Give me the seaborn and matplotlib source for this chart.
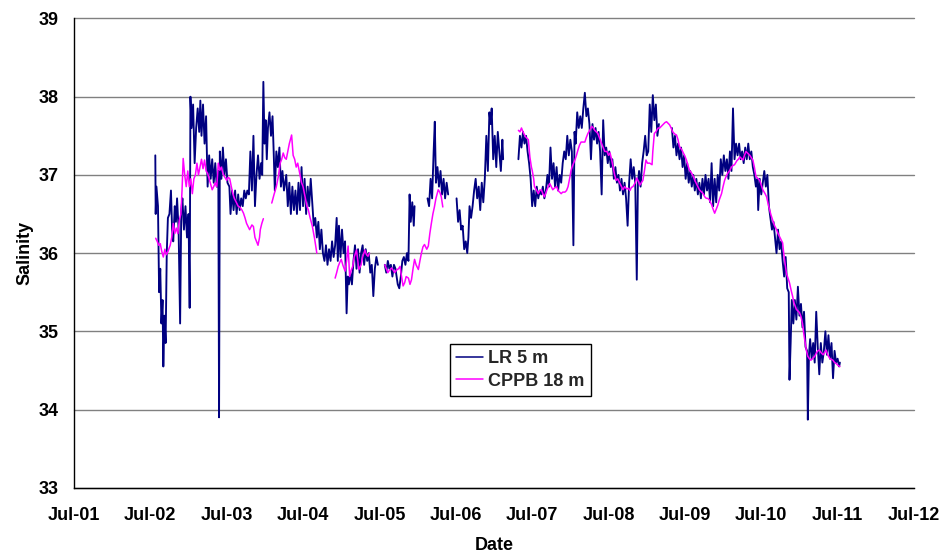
import pandas as pd
import matplotlib
matplotlib.use("Agg")
import matplotlib.pyplot as plt
import matplotlib.dates as mdates
from matplotlib.lines import Line2D
import seaborn as sns

# Salinity readings as (decimal year, salinity); None marks a break in the record.
lr_readings = [
    (2002.565, 37.25), (2002.57, 36.5), (2002.58, 36.85), (2002.60, 36.6), (2002.615, 35.5),
    (2002.63, 35.8), (2002.645, 35.1), (2002.66, 35.4), (2002.67, 34.55), (2002.685, 35.2),
    (2002.70, 34.85), (2002.715, 36.0), (2002.73, 36.45), (2002.75, 36.5), (2002.77, 36.8),
    (2002.785, 36.3), (2002.80, 36.15), (2002.82, 36.6), (2002.835, 36.4), (2002.85, 36.7),
    (2002.87, 36.3), (2002.89, 35.1), (2002.905, 36.55), (2002.92, 36.7), (2002.94, 36.3),
    (2002.96, 36.6), (2002.98, 36.2), (2003.00, 36.5), (2003.015, 35.3), (2003.025, 38.0),
    (2003.04, 37.6), (2003.06, 37.9), (2003.08, 37.15), (2003.10, 37.6), (2003.12, 37.85),
    (2003.14, 37.55), (2003.155, 37.95), (2003.17, 37.5), (2003.19, 37.9), (2003.21, 37.4),
    (2003.23, 37.75), (2003.25, 36.85), (2003.27, 37.25), (2003.29, 36.95), (2003.31, 37.2),
    (2003.33, 36.9), (2003.35, 37.15), (2003.37, 36.85), (2003.39, 37.05), (2003.40, 33.9),
    (2003.41, 37.3), (2003.43, 36.95), (2003.45, 37.35), (2003.47, 37.0), (2003.49, 37.2),
    (2003.51, 36.9), (2003.535, 36.85), (2003.55, 36.5), (2003.57, 36.8), (2003.59, 36.55),
    (2003.61, 36.8), (2003.63, 36.5), (2003.65, 36.75), (2003.67, 36.55), (2003.69, 36.7),
    (2003.71, 36.6), (2003.73, 36.8), (2003.75, 36.7), (2003.77, 36.8), (2003.79, 36.75),
    (2003.81, 37.3), (2003.83, 36.8), (2003.85, 37.5), (2003.87, 36.6), (2003.89, 37.0),
    (2003.91, 37.25), (2003.93, 36.95), (2003.95, 37.15), (2003.965, 37.0), (2003.98, 38.19),
    (2003.995, 37.4), (2004.01, 37.7), (2004.025, 37.2), (2004.04, 37.6), (2004.06, 37.8),
    (2004.08, 37.5), (2004.10, 37.75), (2004.115, 37.3), (2004.13, 36.8), (2004.15, 37.3),
    (2004.17, 37.1), (2004.19, 37.35), (2004.21, 36.85), (2004.23, 37.05), (2004.25, 36.8),
    (2004.28, 37.0), (2004.30, 36.6), (2004.32, 36.9), (2004.34, 36.5), (2004.36, 36.85),
    (2004.38, 36.55), (2004.40, 36.8), (2004.42, 36.5), (2004.44, 36.9), (2004.46, 36.55),
    (2004.48, 37.1), (2004.50, 36.6), (2004.52, 36.95), (2004.54, 36.5), (2004.56, 36.85),
    (2004.58, 36.6), (2004.60, 36.95), (2004.62, 36.65), (2004.64, 36.35), (2004.66, 36.45),
    (2004.68, 36.2), (2004.70, 36.4), (2004.72, 36.05), (2004.74, 36.3), (2004.76, 36.0),
    (2004.78, 35.9), (2004.80, 36.1), (2004.82, 35.85), (2004.84, 36.05), (2004.86, 35.9),
    (2004.88, 36.15), (2004.90, 35.95), (2004.92, 36.1), (2004.94, 36.45), (2004.955, 35.9),
    (2004.97, 36.35), (2004.99, 35.95), (2005.01, 36.3), (2005.03, 36.0), (2005.05, 36.15),
    (2005.07, 35.23), (2005.085, 35.7), (2005.10, 35.6), (2005.12, 35.75), (2005.14, 35.6),
    (2005.16, 35.9), (2005.18, 36.1), (2005.20, 35.8), (2005.22, 36.05), (2005.24, 35.75),
    (2005.26, 36.0), (2005.28, 36.1), (2005.30, 35.85), (2005.32, 36.05), (2005.34, 35.9),
    (2005.36, 36.0), (2005.38, 35.75), (2005.40, 35.85), (2005.42, 35.45), (2005.44, 35.8),
    (2005.46, 35.95), (2005.48, 35.85),
    None,
    (2005.57, 35.85), (2005.59, 35.75), (2005.61, 35.9), (2005.63, 35.8), (2005.65, 35.85),
    (2005.67, 35.7), (2005.69, 35.85), (2005.71, 35.8), (2005.74, 35.6), (2005.76, 35.55),
    (2005.78, 35.7), (2005.80, 35.9), (2005.82, 35.95), (2005.84, 35.85), (2005.86, 36.0),
    (2005.88, 35.9), (2005.895, 36.75), (2005.91, 36.4), (2005.93, 36.65), (2005.95, 36.35),
    (2005.96, 36.6),
    None,
    (2006.13, 36.7), (2006.15, 36.6), (2006.17, 36.95), (2006.19, 36.7), (2006.21, 37.3),
    (2006.225, 37.68), (2006.24, 36.9), (2006.26, 37.1), (2006.28, 36.85), (2006.30, 37.05),
    (2006.32, 36.75), (2006.34, 36.95), (2006.36, 36.7), (2006.38, 36.9), (2006.40, 36.75),
    None,
    (2006.51, 36.7), (2006.53, 36.4), (2006.55, 36.55), (2006.57, 36.3), (2006.59, 36.35),
    (2006.61, 36.05), (2006.63, 36.15), (2006.65, 36.0), (2006.665, 36.2), (2006.68, 36.6),
    (2006.70, 36.45), (2006.72, 36.6), (2006.74, 36.8), (2006.76, 36.95), (2006.78, 36.7),
    (2006.80, 36.85), (2006.82, 36.55), (2006.84, 36.9), (2006.86, 36.65), (2006.88, 36.95),
    (2006.90, 37.5), (2006.92, 37.05), (2006.94, 37.8), (2006.955, 37.65), (2006.97, 37.85),
    (2006.99, 37.2), (2007.01, 37.5), (2007.03, 37.1), (2007.05, 37.55), (2007.07, 37.3),
    (2007.09, 37.05), (2007.11, 37.45), (2007.12, 37.2),
    None,
    (2007.32, 37.2), (2007.34, 37.5), (2007.36, 37.35), (2007.38, 37.55), (2007.40, 37.4),
    (2007.42, 37.5), (2007.44, 37.3), (2007.46, 37.15), (2007.48, 36.95), (2007.50, 36.6),
    (2007.52, 36.8), (2007.54, 36.6), (2007.56, 36.85), (2007.58, 36.7), (2007.60, 36.8),
    (2007.62, 36.75), (2007.64, 36.85), (2007.66, 36.7), (2007.68, 36.8), (2007.70, 37.0),
    (2007.72, 36.85), (2007.74, 37.35), (2007.76, 36.95), (2007.78, 37.15), (2007.80, 36.85),
    (2007.82, 37.1), (2007.84, 36.8), (2007.86, 37.0), (2007.88, 36.9), (2007.90, 37.15),
    (2007.92, 37.3), (2007.94, 37.2), (2007.96, 37.5), (2007.98, 37.25), (2008.00, 37.45),
    (2008.02, 37.3), (2008.04, 36.1), (2008.055, 37.55), (2008.07, 37.4), (2008.09, 37.8),
    (2008.11, 37.6), (2008.13, 37.75), (2008.15, 37.6), (2008.17, 37.85), (2008.19, 38.05),
    (2008.21, 37.75), (2008.23, 37.85), (2008.25, 37.65), (2008.27, 37.2), (2008.29, 37.65),
    (2008.31, 37.45), (2008.33, 37.6), (2008.35, 37.4), (2008.37, 37.55), (2008.39, 37.3),
    (2008.41, 36.75), (2008.43, 37.7), (2008.45, 37.25), (2008.47, 37.35), (2008.49, 37.15),
    (2008.51, 37.3), (2008.53, 37.1), (2008.55, 37.2), (2008.57, 36.95), (2008.59, 37.1),
    (2008.61, 36.9), (2008.63, 37.0), (2008.65, 36.8), (2008.67, 36.95), (2008.69, 36.75),
    (2008.71, 36.9), (2008.73, 36.7), (2008.75, 36.35), (2008.77, 36.9), (2008.79, 37.2),
    (2008.81, 36.95), (2008.83, 37.1), (2008.85, 36.9), (2008.87, 35.66), (2008.885, 36.9),
    (2008.90, 37.05), (2008.92, 36.85), (2008.94, 37.15), (2008.96, 37.3), (2008.98, 37.5),
    (2009.00, 37.25), (2009.02, 37.3), (2009.04, 37.9), (2009.06, 37.55), (2009.08, 38.02),
    (2009.10, 37.7), (2009.12, 37.9), (2009.14, 37.5), (2009.16, 37.65),
    None,
    (2009.33, 37.6), (2009.35, 37.35), (2009.37, 37.5), (2009.39, 37.25), (2009.41, 37.4),
    (2009.43, 37.2), (2009.45, 37.35), (2009.47, 37.1), (2009.49, 37.25), (2009.51, 36.95),
    (2009.53, 37.15), (2009.55, 36.9), (2009.57, 37.05), (2009.59, 36.85), (2009.61, 37.0),
    (2009.63, 36.8), (2009.65, 36.95), (2009.67, 36.75), (2009.69, 36.9), (2009.71, 36.7),
    (2009.73, 36.95), (2009.75, 36.75), (2009.77, 37.0), (2009.79, 36.8), (2009.81, 36.95),
    (2009.83, 36.65), (2009.85, 37.15), (2009.87, 36.6), (2009.89, 36.95), (2009.91, 36.65),
    (2009.93, 37.0), (2009.95, 36.8), (2009.97, 37.2), (2009.99, 37.0), (2010.01, 37.25),
    (2010.03, 37.05), (2010.05, 37.2), (2010.07, 36.95), (2010.09, 37.3), (2010.11, 37.05),
    (2010.13, 37.85), (2010.15, 37.2), (2010.17, 37.4), (2010.19, 37.25), (2010.21, 37.4),
    (2010.23, 37.2), (2010.25, 37.3), (2010.27, 37.15), (2010.29, 37.35), (2010.31, 37.2),
    (2010.33, 37.4), (2010.35, 37.2), (2010.37, 37.3), (2010.39, 37.1), (2010.41, 37.0),
    (2010.43, 36.85), (2010.45, 36.95), (2010.46, 36.55), (2010.48, 36.95), (2010.50, 36.75),
    (2010.52, 36.9), (2010.54, 37.05), (2010.56, 36.85), (2010.58, 37.0), (2010.60, 36.6),
    (2010.62, 36.45), (2010.64, 36.3), (2010.66, 36.4), (2010.68, 36.2), (2010.70, 36.0),
    (2010.72, 36.3), (2010.74, 36.05), (2010.76, 36.15), (2010.78, 35.9), (2010.80, 35.7),
    (2010.82, 35.95), (2010.84, 35.55), (2010.86, 35.5), (2010.87, 34.38), (2010.885, 34.85),
    (2010.90, 35.4), (2010.92, 35.1), (2010.94, 35.4), (2010.96, 35.15), (2010.98, 35.57),
    (2011.00, 35.2), (2011.02, 35.35), (2011.04, 35.05), (2011.06, 35.25), (2011.08, 34.8),
    (2011.10, 34.75), (2011.11, 33.87), (2011.125, 34.7), (2011.14, 34.9), (2011.16, 34.65),
    (2011.18, 34.85), (2011.20, 34.6), (2011.22, 35.25), (2011.24, 34.8), (2011.26, 34.45),
    (2011.28, 34.85), (2011.30, 34.6), (2011.32, 34.75), (2011.34, 35.0), (2011.36, 34.7),
    (2011.38, 34.95), (2011.40, 34.65), (2011.42, 34.85), (2011.44, 34.4), (2011.46, 34.75),
    (2011.48, 34.6), (2011.50, 34.65), (2011.52, 34.55), (2011.53, 34.6),
]

cppb_readings = [
    (2002.57, 36.19), (2002.59, 36.15), (2002.61, 36.1), (2002.63, 36.12), (2002.65, 36.02),
    (2002.67, 35.95), (2002.69, 36.05), (2002.71, 35.98), (2002.73, 36.02), (2002.76, 36.1),
    (2002.78, 36.2), (2002.80, 36.38), (2002.82, 36.25), (2002.84, 36.32), (2002.86, 36.25),
    (2002.88, 36.42), (2002.90, 36.5), (2002.915, 36.8), (2002.93, 37.21), (2002.95, 37.0),
    (2002.97, 36.85), (2002.99, 37.05), (2003.01, 36.85), (2003.03, 36.95), (2003.05, 36.76),
    (2003.07, 36.95), (2003.09, 37.0), (2003.11, 37.15), (2003.13, 37.0), (2003.15, 37.1),
    (2003.17, 37.2), (2003.19, 37.08), (2003.21, 37.19), (2003.23, 37.05), (2003.25, 37.02),
    (2003.27, 36.95), (2003.29, 36.88), (2003.31, 36.81), (2003.33, 36.85), (2003.35, 36.9),
    (2003.37, 36.85), (2003.39, 37.15), (2003.41, 37.06), (2003.43, 37.1), (2003.45, 37.02),
    (2003.47, 36.98), (2003.50, 36.93), (2003.52, 36.97), (2003.54, 36.95), (2003.56, 36.85),
    (2003.58, 36.76), (2003.60, 36.7), (2003.63, 36.64), (2003.65, 36.6), (2003.67, 36.59),
    (2003.70, 36.55), (2003.72, 36.51), (2003.74, 36.45), (2003.76, 36.38), (2003.78, 36.34),
    (2003.80, 36.3), (2003.83, 36.36), (2003.85, 36.34), (2003.87, 36.2), (2003.89, 36.15),
    (2003.91, 36.1), (2003.93, 36.2), (2003.94, 36.3), (2003.96, 36.38), (2003.98, 36.44),
    None,
    (2004.09, 36.64), (2004.12, 36.75), (2004.15, 36.85), (2004.18, 37.0), (2004.20, 37.15),
    (2004.22, 37.2), (2004.24, 37.28), (2004.26, 37.22), (2004.28, 37.2), (2004.30, 37.3),
    (2004.32, 37.4), (2004.35, 37.51), (2004.37, 37.25), (2004.39, 37.2), (2004.41, 37.1),
    (2004.43, 37.15), (2004.46, 37.0), (2004.48, 36.9), (2004.50, 36.85), (2004.52, 36.75),
    (2004.55, 36.6), (2004.57, 36.55), (2004.59, 36.46), (2004.62, 36.35), (2004.65, 36.19),
    (2004.68, 36.0),
    None,
    (2004.92, 35.68), (2004.94, 35.75), (2004.96, 35.83), (2004.98, 35.88), (2005.00, 35.92),
    (2005.02, 35.85), (2005.05, 35.77), (2005.07, 35.9), (2005.09, 36.09), (2005.11, 35.7),
    (2005.13, 35.78), (2005.15, 35.83), (2005.17, 35.95), (2005.20, 36.04), (2005.23, 35.79),
    (2005.26, 35.85), (2005.28, 35.95), (2005.31, 36.04), (2005.33, 35.98), (2005.35, 35.96),
    (2005.37, 36.0),
    None,
    (2005.57, 35.85), (2005.59, 35.8), (2005.61, 35.75), (2005.63, 35.78), (2005.66, 35.81),
    (2005.68, 35.78), (2005.70, 35.75), (2005.72, 35.78), (2005.75, 35.8), (2005.77, 35.83),
    (2005.79, 35.7), (2005.81, 35.58), (2005.83, 35.62), (2005.85, 35.7), (2005.88, 35.68),
    (2005.90, 35.6), (2005.92, 35.66), (2005.94, 35.8), (2005.96, 35.92), (2005.98, 35.85),
    (2006.01, 35.79), (2006.03, 35.9), (2006.05, 36.0), (2006.07, 36.08), (2006.09, 36.11),
    (2006.12, 36.05), (2006.14, 36.09), (2006.16, 36.25), (2006.18, 36.38), (2006.20, 36.5),
    (2006.22, 36.59), (2006.24, 36.7), (2006.27, 36.81), (2006.29, 36.78), (2006.31, 36.72),
    (2006.33, 36.59),
    None,
    (2007.32, 37.57), (2007.34, 37.55), (2007.36, 37.6), (2007.38, 37.55), (2007.40, 37.51),
    (2007.42, 37.48), (2007.45, 37.45), (2007.47, 37.23), (2007.49, 37.1), (2007.50, 37.06),
    (2007.52, 36.95), (2007.53, 36.85), (2007.56, 36.8), (2007.58, 36.76), (2007.60, 36.8),
    (2007.62, 36.81), (2007.64, 36.76), (2007.66, 36.72), (2007.69, 36.8), (2007.71, 36.85),
    (2007.73, 36.89), (2007.75, 36.85), (2007.77, 36.81), (2007.79, 36.83), (2007.82, 36.85),
    (2007.84, 36.8), (2007.86, 36.78), (2007.88, 36.76), (2007.90, 36.78), (2007.93, 36.78),
    (2007.95, 36.8), (2007.97, 36.85), (2007.99, 36.95), (2008.01, 37.06), (2008.03, 37.12),
    (2008.06, 37.19), (2008.08, 37.25), (2008.10, 37.32), (2008.12, 37.38), (2008.14, 37.42),
    (2008.17, 37.42), (2008.19, 37.42), (2008.21, 37.48), (2008.23, 37.53), (2008.26, 37.58),
    (2008.28, 37.62), (2008.30, 37.6), (2008.32, 37.57), (2008.34, 37.55), (2008.36, 37.53),
    (2008.39, 37.45), (2008.41, 37.4), (2008.43, 37.35), (2008.45, 37.3), (2008.48, 37.3),
    (2008.50, 37.25), (2008.52, 37.28), (2008.54, 37.2), (2008.56, 37.1), (2008.58, 37.0),
    (2008.60, 36.93), (2008.62, 36.95), (2008.65, 36.89), (2008.67, 36.85), (2008.69, 36.81),
    (2008.71, 36.85), (2008.74, 36.82), (2008.76, 36.83), (2008.78, 36.8), (2008.80, 36.84),
    (2008.82, 36.85), (2008.85, 36.9), (2008.87, 36.96), (2008.89, 36.92), (2008.91, 36.87),
    (2008.93, 36.9), (2008.95, 36.93), (2008.97, 37.05), (2008.99, 37.19), (2009.01, 37.15),
    (2009.04, 37.15), (2009.07, 37.13), (2009.08, 37.3), (2009.10, 37.53), (2009.12, 37.55),
    (2009.15, 37.6), (2009.17, 37.6), (2009.19, 37.62), (2009.21, 37.64), (2009.24, 37.67),
    (2009.26, 37.68), (2009.28, 37.66), (2009.30, 37.64), (2009.32, 37.6), (2009.34, 37.55),
    (2009.37, 37.52), (2009.39, 37.51), (2009.41, 37.45), (2009.43, 37.36), (2009.46, 37.32),
    (2009.48, 37.28), (2009.50, 37.24), (2009.52, 37.19), (2009.54, 37.12), (2009.56, 37.06),
    (2009.59, 37.02), (2009.61, 36.98), (2009.63, 36.93), (2009.65, 36.89), (2009.67, 36.85),
    (2009.69, 36.81), (2009.72, 36.78), (2009.74, 36.76), (2009.76, 36.72), (2009.78, 36.7),
    (2009.80, 36.7), (2009.82, 36.68), (2009.85, 36.62), (2009.87, 36.56), (2009.89, 36.51),
    (2009.91, 36.56), (2009.93, 36.61), (2009.95, 36.68), (2009.98, 36.76), (2010.00, 36.85),
    (2010.02, 36.93), (2010.04, 36.98), (2010.06, 37.02), (2010.09, 37.06), (2010.11, 37.1),
    (2010.13, 37.12), (2010.15, 37.13), (2010.18, 37.18), (2010.20, 37.2), (2010.22, 37.23),
    (2010.24, 37.21), (2010.26, 37.19), (2010.28, 37.25), (2010.30, 37.3), (2010.33, 37.27),
    (2010.35, 37.25), (2010.37, 37.22), (2010.39, 37.19), (2010.41, 37.1), (2010.43, 36.98),
    (2010.46, 36.95), (2010.48, 36.93), (2010.50, 36.87), (2010.52, 36.81), (2010.55, 36.76),
    (2010.57, 36.72), (2010.59, 36.63), (2010.61, 36.55), (2010.63, 36.48), (2010.65, 36.42),
    (2010.67, 36.36), (2010.70, 36.3), (2010.72, 36.25), (2010.74, 36.21), (2010.76, 36.17),
    (2010.78, 36.13), (2010.80, 35.95), (2010.83, 35.74), (2010.85, 35.68), (2010.87, 35.62),
    (2010.89, 35.53), (2010.91, 35.45), (2010.93, 35.36), (2010.96, 35.28), (2010.98, 35.26),
    (2011.00, 35.24), (2011.02, 35.19), (2011.04, 35.1), (2011.06, 34.95), (2011.09, 34.76),
    (2011.11, 34.68), (2011.13, 34.65), (2011.15, 34.63), (2011.18, 34.66), (2011.20, 34.68),
    (2011.22, 34.72), (2011.24, 34.75), (2011.26, 34.76), (2011.29, 34.72), (2011.31, 34.7),
    (2011.33, 34.73), (2011.35, 34.76), (2011.37, 34.7), (2011.40, 34.65), (2011.42, 34.64),
    (2011.44, 34.63), (2011.46, 34.6), (2011.48, 34.59), (2011.51, 34.56), (2011.53, 34.55),
]

series_names = ["LR 5 m", "CPPB 18 m"]
series_colors = ["#000080", "#FF00FF"]
series_widths = [1.35, 1.1]
year_ticks = list(range(2001, 2013))
salinity_ticks = [33, 34, 35, 36, 37, 38, 39]

ORIGIN = pd.Timestamp("2001-07-01")


def to_date(decimal_year):
    return ORIGIN + pd.to_timedelta((decimal_year - 2001.5) * 365.25, unit="D")


rows = []
for name, readings in zip(series_names, [lr_readings, cppb_readings]):
    segment = 0
    for item in readings:
        if item is None:
            segment += 1
            continue
        yr, sal = item
        rows.append({"series": name, "segment": segment,
                     "date": to_date(yr), "salinity": sal})
df = pd.DataFrame(rows)

sns.set_theme(style="white")
plt.rcParams["font.family"] = ["Liberation Sans", "DejaVu Sans"]
plt.rcParams["font.weight"] = "bold"

FS = 13

fig = plt.figure(figsize=(9.46, 5.57), dpi=100)
ax = fig.add_axes([0.0782, 0.1244, 0.888, 0.8424])

# one call per series so each keeps its own stroke width; CPPB drawn over LR
for name, color, lw in zip(series_names, series_colors, series_widths):
    sns.lineplot(data=df[df["series"] == name], x="date", y="salinity",
                 units="segment", estimator=None, sort=False,
                 color=color, linewidth=lw, legend=False, ax=ax)

ax.set_ylim(33, 39)
ax.set_yticks(salinity_ticks)
ax.set_xlim(pd.Timestamp("2001-07-01"), pd.Timestamp("2012-07-01"))
ax.set_xticks([pd.Timestamp(f"{y}-07-01") for y in year_ticks])
ax.xaxis.set_major_formatter(mdates.DateFormatter("%b-%y"))

ax.grid(axis="y", color="#808080", linewidth=1.0)
ax.grid(axis="x", visible=False)
for gl in ax.get_ygridlines():
    gl.set_clip_on(False)

for side in ["top", "right"]:
    ax.spines[side].set_visible(False)
for side in ["left", "bottom"]:
    ax.spines[side].set_color("black")
    ax.spines[side].set_linewidth(1.0)

ax.tick_params(axis="both", which="major", direction="out", length=5,
               width=1.0, color="black", labelsize=FS, labelcolor="black")
ax.tick_params(axis="x", pad=9)
ax.tick_params(axis="y", pad=6)
for lab in ax.get_xticklabels() + ax.get_yticklabels():
    lab.set_fontweight("bold")

ax.set_xlabel("Date", fontsize=FS, fontweight="bold", color="black", labelpad=9)
ax.set_ylabel("Salinity", fontsize=FS, fontweight="bold", color="black", labelpad=4)

handles = [Line2D([0], [0], color=c, linewidth=1.1) for c in series_colors]
leg = ax.legend(handles, series_names, loc="center", bbox_to_anchor=(0.5315, 0.251),
                frameon=True, fancybox=False, shadow=False, framealpha=1,
                edgecolor="black", handlelength=1.45, handletextpad=0.3,
                borderpad=0.35, borderaxespad=0, labelspacing=0.3,
                prop={"weight": "bold", "size": FS})
leg.get_frame().set_linewidth(1.0)

fig.savefig("out.png", dpi=100, facecolor="white")
